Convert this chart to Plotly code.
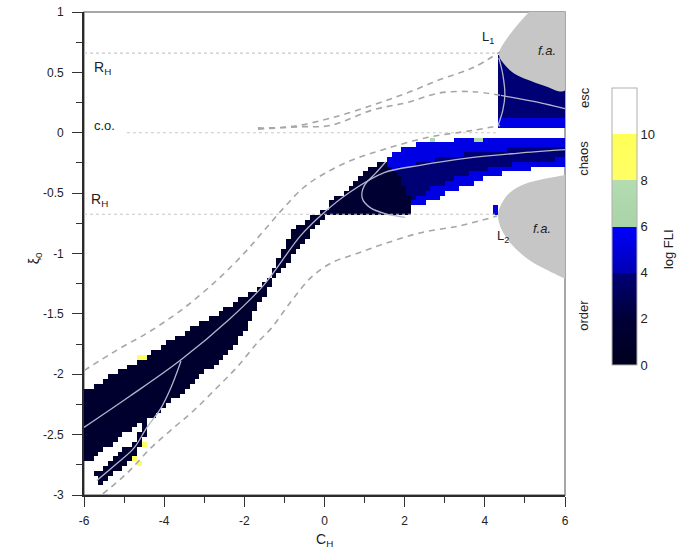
import numpy as np
import plotly.graph_objects as go

# ---------------- axis ticks ----------------
x_tick_vals = [-6, -4, -2, 0, 2, 4, 6]
x_tick_text = ["-6", "-4", "-2", "0", "2", "4", "6"]
y_tick_vals = [1, 0.5, 0, -0.5, -1, -1.5, -2, -2.5, -3]
y_tick_text = ["1", "0.5", "0", "-0.5", "-1", "-1.5", "-2", "-2.5", "-3"]
cbar_tick_vals = [0, 2, 4, 6, 8, 10]

# ---------------- FLI regions (boundaries) ----------------
band_ll_x = [-6.00, -5.50, -4.93, -4.33, -3.83, -3.26, -2.68, -2.18, -1.68, -1.41, -1.26, -1.11, -0.94, -0.69,
             -0.34, -0.06, -0.01, -0.19, -0.44, -0.76, -1.01, -1.18, -1.36, -1.68, -2.01, -2.51, -3.01, -3.58,
             -4.33, -5.00, -5.50, -6.00]
band_ll_y = [-2.13, -2.05, -1.94, -1.83, -1.72, -1.61, -1.50, -1.39, -1.29, -1.21, -1.13, -1.00, -0.89, -0.78,
             -0.70, -0.65, -0.68, -0.76, -0.87, -1.01, -1.12, -1.18, -1.26, -1.45, -1.66, -1.86, -1.99, -2.16,
             -2.36, -2.49, -2.63, -2.74]
band_ll_val = 1.3

strip_x = [-5.70, -5.18, -4.75, -4.45, -4.40, -4.72, -5.16, -5.64]
strip_y = [-2.82, -2.68, -2.55, -2.38, -2.48, -2.66, -2.80, -2.95]
strip_val = 1.3

band_ur_x = [-0.01, 0.24, 0.56, 0.91, 1.24, 1.66, 1.98, 2.31, 2.81, 3.66, 4.80, 6.00, 6.00, 5.38, 4.70,
             4.30, 3.88, 3.46, 3.06, 2.71, 2.21, 2.13, 1.39, -0.01]
band_ur_y = [-0.66, -0.55, -0.47, -0.35, -0.27, -0.19, -0.14, -0.10, -0.08, -0.04, -0.03, -0.03, -0.27, -0.29,
             -0.33, -0.35, -0.39, -0.45, -0.50, -0.56, -0.62, -0.68, -0.67, -0.67]
band_ur_val = 5.3

core_ur_x = [1.39, 1.88, 2.63, 3.63, 4.88, 6.00, 6.00, 4.88, 3.88, 3.13, 2.51, 2.13, 1.76, 1.39]
core_ur_y = [-0.36, -0.29, -0.23, -0.17, -0.13, -0.10, -0.21, -0.25, -0.31, -0.39, -0.49, -0.60, -0.66, -0.66]
core_ur_val = 3.9

dark_ur_x = [-0.01, 0.24, 0.56, 0.91, 1.24, 1.51, 1.76, 2.01, 2.18, 2.16]
dark_ur_y = [-0.67, -0.55, -0.47, -0.35, -0.27, -0.23, -0.31, -0.44, -0.56, -0.67]
dark_ur_val = 1.5

top_reg_x = [4.38, 6.00, 6.00, 4.38]
top_reg_y = [0.66, 0.66, 0.04, 0.04]
top_reg_val = 3.9
top_strip_x = [4.38, 6.00, 6.00, 4.38]
top_strip_y = [0.11, 0.11, 0.04, 0.04]
top_strip_val = 5.3

spot_x = [-4.45, -4.57, -4.45, -4.69, -4.57, 2.71, 3.83, 3.95, 4.31, 4.31]
spot_y = [-1.86, -1.86, -2.58, -2.70, -2.74, -0.06, -0.06, -0.06, -0.66, -0.62]
spot_v = [9.0, 9.0, 9.0, 9.0, 9.0, 7.0, 7.0, 7.0, 5.3, 5.3]

fa_top_x = [5.10, 4.73, 4.45, 4.35, 4.43, 4.73, 5.05, 5.48, 6.00, 6.00]
fa_top_y = [1.00, 0.86, 0.73, 0.65, 0.59, 0.49, 0.44, 0.39, 0.35, 1.00]
fa_bot_x = [6.00, 5.38, 4.88, 4.55, 4.35, 4.33, 4.43, 4.68, 5.13, 5.58, 6.00]
fa_bot_y = [-0.35, -0.39, -0.44, -0.52, -0.64, -0.70, -0.81, -0.93, -1.06, -1.14, -1.21]

# ---------------- curves ----------------
s1_x = [-6.00, -4.85, -3.58, -2.36, -1.51, -0.59, -0.01, 0.64, 1.49, 2.38, 3.56, 4.80, 6.00]
s1_y = [-2.44, -2.18, -1.88, -1.54, -1.26, -0.85, -0.66, -0.49, -0.33, -0.27, -0.21, -0.17, -0.14]
s2_x = [-3.58, -3.83, -4.08, -4.43, -4.75, -5.18, -5.68]
s2_y = [-1.89, -2.11, -2.28, -2.44, -2.61, -2.74, -2.88]
s3_x = [1.53, 1.29, 0.99, 0.94, 1.14, 1.51, 2.01]
s3_y = [-0.24, -0.33, -0.44, -0.54, -0.62, -0.67, -0.70]
s4_x = [4.40, 4.88, 5.50, 6.00]
s4_y = [0.31, 0.28, 0.24, 0.20]
s5_x = [4.35, 4.45, 4.50, 4.45, 4.33]
s5_y = [0.62, 0.48, 0.31, 0.19, 0.06]

d1_x = [-6.00, -5.18, -4.33, -3.50, -2.68, -2.01, -1.51, -1.01, -0.51, -0.01, 0.66, 1.46, 2.56, 3.71, 4.38]
d1_y = [-1.97, -1.80, -1.64, -1.45, -1.22, -1.00, -0.81, -0.62, -0.45, -0.34, -0.23, -0.14, -0.04, 0.02, 0.06]
d2_x = [-5.53, -4.93, -4.33, -3.75, -3.26, -2.68, -2.18, -1.68, -1.33, -0.84, -0.34, 0.16, 0.81, 1.49, 2.38,
        3.38, 4.30]
d2_y = [-2.99, -2.82, -2.61, -2.44, -2.30, -2.11, -1.94, -1.74, -1.62, -1.40, -1.20, -1.08, -1.00, -0.92, -0.83,
        -0.77, -0.69]
d3_x = [-1.66, -0.86, 0.14, 1.21, 2.06, 2.88, 3.71, 4.38]
d3_y = [0.04, 0.05, 0.12, 0.23, 0.33, 0.44, 0.54, 0.67]
d4_x = [-1.66, -0.61, 0.14, 1.21, 2.06, 2.88, 3.71, 4.38]
d4_y = [0.03, 0.05, 0.06, 0.19, 0.25, 0.33, 0.34, 0.31]

ref_y = [0.66, 0.0, -0.675]
ref_x0 = [-6.0, -4.93, -6.0]
ref_x1 = [4.35, 4.35, 4.30]

# ---------------- build FLI raster ----------------
grid_x = np.round(np.arange(100) * 0.12 - 5.94, 4)
grid_y = np.round(np.arange(100) * 0.04 - 2.98, 4)
GX, GY = np.meshgrid(grid_x, grid_y)


def inside(px, py, X, Y):
    px = np.asarray(px, float)
    py = np.asarray(py, float)
    res = np.zeros(X.shape, bool)
    j = len(px) - 1
    for i in range(len(px)):
        xi, yi, xj, yj = px[i], py[i], px[j], py[j]
        if yi != yj:
            cond = ((yi > Y) != (yj > Y)) & (X < (xj - xi) * (Y - yi) / (yj - yi) + xi)
            res ^= cond
        j = i
    return res


z = np.full(GX.shape, np.nan)
layers = [
    (band_ll_x, band_ll_y, band_ll_val),
    (strip_x, strip_y, strip_val),
    (band_ur_x, band_ur_y, band_ur_val),
    (core_ur_x, core_ur_y, core_ur_val),
    (dark_ur_x, dark_ur_y, dark_ur_val),
    (top_reg_x, top_reg_y, top_reg_val),
    (top_strip_x, top_strip_y, top_strip_val),
]
for xs, ys, v in layers:
    z[inside(xs, ys, GX, GY)] = v
for sx, sy, v in zip(spot_x, spot_y, spot_v):
    iy = int(np.argmin(np.abs(grid_y - sy)))
    ix = int(np.argmin(np.abs(grid_x - sx)))
    z[iy, ix] = v

colorscale = [
    [0.0, "#00001e"], [2 / 12, "#000038"], [4 / 12, "#000078"],
    [4 / 12, "#0000b4"], [6 / 12, "#0000ff"],
    [6 / 12, "#a8d4a8"], [8 / 12, "#b4dcb0"],
    [8 / 12, "#ffff66"], [10 / 12, "#ffff58"],
    [10 / 12, "#ffffff"], [1.0, "#ffffff"],
]

FONT = "Liberation Sans, Arial, sans-serif"

fig = go.Figure()
fig.add_trace(go.Heatmap(
    x=grid_x, y=grid_y, z=z, zmin=0, zmax=12, colorscale=colorscale, hoverinfo="skip",
    colorbar=dict(x=1.0977, xanchor="left", y=0.556, yanchor="middle", len=277, lenmode="pixels",
                  thickness=25, thicknessmode="pixels", xpad=0, ypad=0, tickvals=cbar_tick_vals,
                  ticks="", outlinecolor="#b0b0b0", outlinewidth=1,
                  tickfont=dict(family=FONT, size=13, color="#222")),
))

for fx, fy in [(fa_top_x, fa_top_y), (fa_bot_x, fa_bot_y)]:
    fig.add_trace(go.Scatter(x=fx, y=fy, fill="toself", fillcolor="#c6c6c6", mode="lines",
                             line=dict(width=0, shape="spline", color="#c6c6c6"), hoverinfo="skip"))

for yv, x0, x1 in zip(ref_y, ref_x0, ref_x1):
    fig.add_trace(go.Scatter(x=[x0, x1], y=[yv, yv], mode="lines",
                             line=dict(color="#c8c8c8", width=1.2, dash="dot"), hoverinfo="skip"))

for dx, dy in [(d1_x, d1_y), (d2_x, d2_y), (d3_x, d3_y), (d4_x, d4_y)]:
    fig.add_trace(go.Scatter(x=dx, y=dy, mode="lines",
                             line=dict(color="#a6a6a6", width=1.6, dash="6px,5px", shape="spline"),
                             hoverinfo="skip"))

for sx, sy in [(s1_x, s1_y), (s2_x, s2_y), (s3_x, s3_y), (s4_x, s4_y), (s5_x, s5_y)]:
    fig.add_trace(go.Scatter(x=sx, y=sy, mode="lines",
                             line=dict(color="#b4b4cc", width=1.3, shape="spline"), hoverinfo="skip"))

axis_common = dict(showgrid=False, zeroline=False, showline=True, linecolor="#2a2a2a", linewidth=1.6,
                   mirror=False, ticks="outside", ticklen=10, tickwidth=1.3, tickcolor="#333",
                   automargin=False, tickfont=dict(family=FONT, size=12, color="#222"))

fig.update_layout(
    width=677, height=556, margin=dict(l=84, r=112, t=12, b=61),
    paper_bgcolor="white", plot_bgcolor="white", showlegend=False,
    font=dict(family=FONT, color="#222"),
    xaxis=dict(range=[-6, 6], tickvals=x_tick_vals, ticktext=x_tick_text, ticklabelstandoff=4,
               minor=dict(dtick=1, tick0=0, ticklen=6, ticks="outside", tickcolor="#333"), **axis_common),
    yaxis=dict(range=[-3, 1], tickvals=y_tick_vals, ticktext=y_tick_text, ticklabelstandoff=6,
               minor=dict(dtick=0.25, tick0=0, ticklen=6, ticks="outside", tickcolor="#333"), **axis_common),
)
# lighter top / right frame
fig.add_shape(type="rect", xref="paper", yref="paper", x0=0, y0=0, x1=1, y1=1,
              line=dict(color="#8a8a8a", width=1.5), layer="below")

ann = [
    dict(x=-5.80, y=0.535, text="R<sub>H</sub>", xanchor="left", size=14),
    dict(x=-5.80, y=0.058, text="c.o.", xanchor="left", size=13),
    dict(x=-5.88, y=-0.56, text="R<sub>H</sub>", xanchor="left", size=14),
    dict(x=4.08, y=0.785, text="L<sub>1</sub>", xanchor="center", size=13),
    dict(x=4.45, y=-0.86, text="L<sub>2</sub>", xanchor="center", size=13),
    dict(x=5.55, y=0.685, text="<i>f.a.</i>", xanchor="center", size=13),
    dict(x=5.43, y=-0.79, text="<i>f.a.</i>", xanchor="center", size=13),
]
for a in ann:
    fig.add_annotation(x=a["x"], y=a["y"], xref="x", yref="y", text=a["text"], showarrow=False,
                       xanchor=a["xanchor"], yanchor="middle", font=dict(family=FONT, size=a["size"], color="#222"))

paper_ann = [
    dict(x=0.501, y=-0.093, text="C<sub>H</sub>", angle=0, size=14),
    dict(x=-0.102, y=0.49, text="ξ<sub>0</sub>", angle=-90, size=14),
    dict(x=1.214, y=0.509, text="log FLI", angle=-90, size=13),
    dict(x=1.0395, y=0.373, text="order", angle=-90, size=13),
    dict(x=1.0395, y=0.698, text="chaos", angle=-90, size=13),
    dict(x=1.0395, y=0.824, text="esc", angle=-90, size=13),
]
for a in paper_ann:
    fig.add_annotation(x=a["x"], y=a["y"], xref="paper", yref="paper", text=a["text"], showarrow=False,
                       textangle=a["angle"], xanchor="center", yanchor="middle",
                       font=dict(family=FONT, size=a["size"], color="#222"))

fig.write_html("out.html", config={"displayModeBar": False},
               post_script="document.body.style.margin='0px';")
